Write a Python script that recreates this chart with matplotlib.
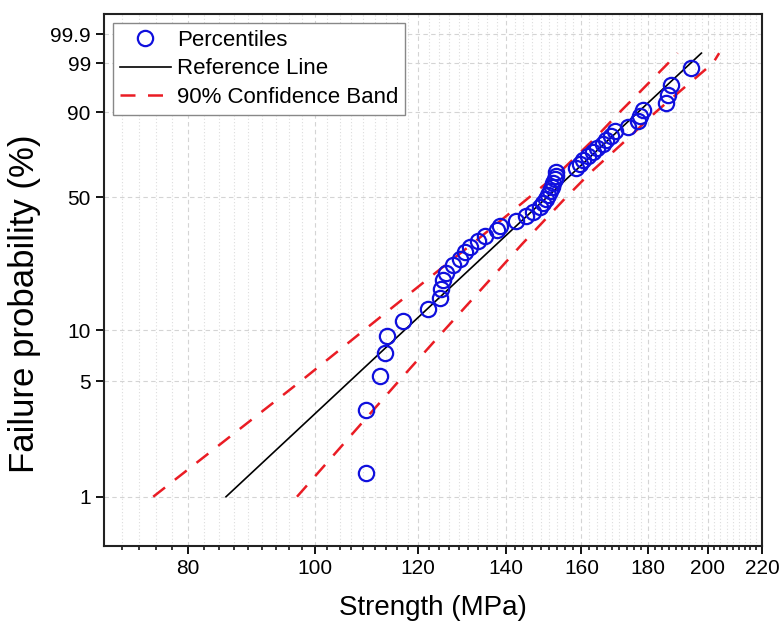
import numpy as np
import matplotlib.pyplot as plt
from matplotlib.ticker import FixedLocator, NullFormatter

plt.rcParams['font.family'] = ['Liberation Sans', 'DejaVu Sans']

# failure probability of each specimen (%)
prob = [1.39, 3.37, 5.36, 7.34, 9.33, 11.31, 13.29, 15.28, 17.26, 19.25,
        21.23, 23.21, 25.20, 27.18, 29.17, 31.15, 33.13, 35.12, 37.10, 39.09,
        41.07, 43.06, 45.04, 47.02, 49.01, 50.99, 52.98, 54.96, 56.94, 58.93,
        60.91, 62.90, 64.88, 66.87, 68.85, 70.83, 72.82, 74.80, 76.79, 78.77,
        80.75, 82.74, 84.72, 86.71, 88.69, 90.67, 92.66, 94.64, 96.63, 98.61]
# strength of each specimen (MPa)
strength = [109.5, 109.5, 112.1, 113.1, 113.5, 116.8, 122.1, 124.7, 125.0, 125.4,
            126.1, 127.6, 129.1, 130.3, 131.4, 133.3, 134.9, 137.8, 138.6, 142.7,
            145.2, 146.9, 148.7, 149.5, 150.4, 150.9, 151.3, 151.8, 152.2, 152.7,
            153.1, 153.1, 158.6, 159.5, 160.5, 161.8, 163.2, 164.4, 166.1, 167.0,
            168.5, 169.7, 173.6, 176.7, 177.3, 178.3, 185.9, 186.3, 187.3, 194.2]

# reference line end points
ref_strength = [85.5, 197.7]
ref_prob = [1, 99.5]

# 90% confidence band
band_prob = [1, 5, 10, 20, 30, 50, 63.2, 80, 90, 95, 99, 99.5]
band_low = [75.2, 97.5, 109.0, 122.5, 131.9, 146.0, 154.3, 164.1, 171.2, 176.9, 186.5, 189.6]
band_high = [96.9, 115.9, 125.6, 136.7, 144.1, 155.8, 163.0, 174.0, 182.4, 189.5, 201.8, 204.0]

x_major = [80, 100, 120, 140, 160, 180, 200, 220]
y_major = [1, 5, 10, 50, 90, 99, 99.9]
y_labels = ['1', '5', '10', '50', '90', '99', '99.9']


def weibull_fwd(p):
    p = np.clip(np.asarray(p, dtype=float), 1e-9, 100 - 1e-9)
    return np.log(-np.log(1 - p / 100))


def weibull_inv(w):
    return 100 * (1 - np.exp(-np.exp(np.asarray(w, dtype=float))))


fig = plt.figure(figsize=(7.82, 6.28), dpi=100)
ax = fig.add_axes([0.133, 0.1306, 0.8414, 0.8471])

ax.set_xscale('log')
ax.set_yscale('function', functions=(weibull_fwd, weibull_inv))
ax.set_xlim(68.95, 220)
ax.set_ylim(0.5, 99.99)

red = '#ea1c24'
blue = '#1010dd'
ax.plot(band_low, band_prob, color=red, lw=1.8, dashes=(6, 5), zorder=3,
        label='90% Confidence Band')
ax.plot(band_high, band_prob, color=red, lw=1.8, dashes=(6, 5), zorder=3)
ax.plot(ref_strength, ref_prob, color='black', lw=1.2, zorder=4, label='Reference Line')
ax.plot(strength, prob, 'o', ms=11, mfc='none', mec=blue, mew=1.6, zorder=5,
        label='Percentiles')

# ticks
ax.xaxis.set_major_locator(FixedLocator(x_major))
ax.set_xticklabels([str(v) for v in x_major])
minor = []
for a, b in zip([60] + x_major[:-1], x_major):
    for k in range(1, 9):
        v = a + k * (b - a) / 9
        if v > 69:
            minor.append(v)
ax.xaxis.set_minor_locator(FixedLocator(minor))
ax.xaxis.set_minor_formatter(NullFormatter())
ax.yaxis.set_major_locator(FixedLocator(y_major))
ax.set_yticklabels(y_labels)
ax.yaxis.set_minor_locator(FixedLocator([]))

ax.tick_params(axis='both', which='major', direction='out', length=6, width=1.3,
               labelsize=15, top=False, right=False)
ax.tick_params(axis='x', which='minor', direction='out', length=3, width=1.1)
for s in ax.spines.values():
    s.set_linewidth(1.5)
    s.set_color('#222222')

ax.grid(True, which='major', color='#d4d4d4', ls=(0, (4, 3)), lw=0.8)
ax.grid(True, which='minor', axis='x', color='#dddddd', ls=(0, (1, 2)), lw=0.8)
ax.set_axisbelow(True)

ax.set_xlabel('Strength (MPa)', fontsize=20, labelpad=12)
ax.set_ylabel('Failure probability (%)', fontsize=25)
ax.yaxis.set_label_coords(-0.096, 0.455)

h, l = ax.get_legend_handles_labels()
order = [2, 1, 0]
leg = ax.legend([h[i] for i in order], [l[i] for i in order], loc='upper left',
                fontsize=16, frameon=True, fancybox=False, framealpha=1,
                edgecolor='#888888', borderaxespad=0.4, handlelength=2.3,
                handletextpad=0.3, labelspacing=0.35, borderpad=0.3)
leg.get_frame().set_linewidth(1.0)

fig.savefig('out.png', dpi=100)
